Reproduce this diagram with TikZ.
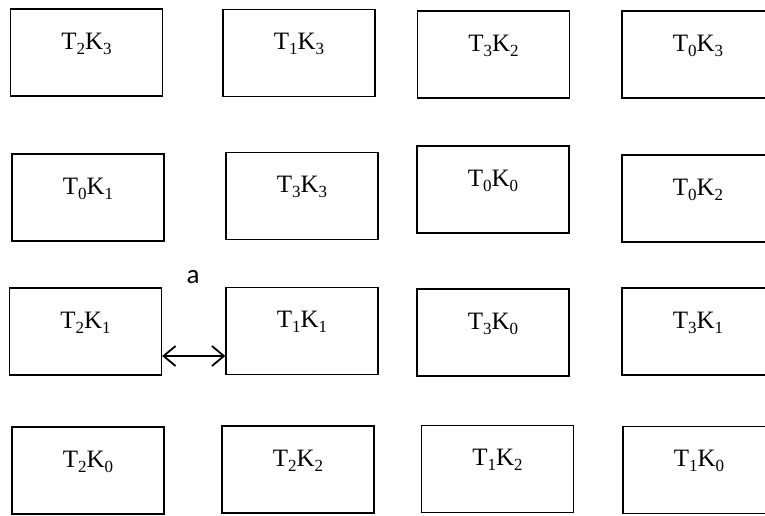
\documentclass[tikz,border=0pt]{standalone}
\usepackage{fontspec}
\setmainfont{Liberation Serif}
\newfontfamily\labelfont{Carlito}
\usetikzlibrary{arrows.meta}
% subscript in the style of a word processor: smaller and lowered
\newcommand\lowsub[1]{\raisebox{-0.2em}{\fontsize{17}{18}\selectfont #1}}
\newcommand\tk[2]{T\lowsub{#1}K\lowsub{#2}}
\tikzset{
  cell/.style={draw=black, line width=1.3pt, rectangle, minimum width=152pt,
    minimum height=87pt, inner sep=0pt},
  celltext/.style={anchor=base, inner sep=0pt, font=\fontsize{25}{28}\selectfont},
  dbl/.style={{Straight Barb[length=12pt,width=20pt]}-{Straight Barb[length=12pt,width=20pt]},
    line width=1.8pt},
}
\begin{document}
\begin{tikzpicture}[x=1pt,y=-1pt]
\clip (0,0) rectangle (765,516);
\fill[white] (0,0) rectangle (765,516);
% row 1
\node[cell] (b11) at (86.5,52.5) {};
\node[cell] (b12) at (299,53) {};
\node[cell] (b13) at (493.5,54.5) {};
\node[cell] (b14) at (698,54.5) {};
% row 2
\node[cell] (b21) at (88,197.5) {};
\node[cell] (b22) at (302,196) {};
\node[cell] (b23) at (493,189.5) {};
\node[cell] (b24) at (698,198.5) {};
% row 3
\node[cell] (b31) at (85.5,331.5) {};
\node[cell] (b32) at (302,331) {};
\node[cell] (b33) at (493,332.5) {};
\node[cell] (b34) at (698,331.5) {};
% row 4
\node[cell] (b41) at (88,470.5) {};
\node[cell] (b42) at (298,469.5) {};
\node[cell] (b43) at (497.5,469) {};
\node[cell] (b44) at (699,470) {};
% labels in the upper part of each box
\node[celltext] (t11) at ([yshift=-41pt]b11.north) {\tk23};
\node[celltext] (t12) at ([yshift=-41pt]b12.north) {\tk13};
\node[celltext] (t13) at ([yshift=-41pt]b13.north) {\tk32};
\node[celltext] (t14) at ([yshift=-41pt]b14.north) {\tk03};
\node[celltext] (t21) at ([yshift=-41pt]b21.north) {\tk01};
\node[celltext] (t22) at ([yshift=-41pt]b22.north) {\tk33};
\node[celltext] (t23) at ([yshift=-41pt]b23.north) {\tk00};
\node[celltext] (t24) at ([yshift=-41pt]b24.north) {\tk02};
\node[celltext] (t31) at ([yshift=-41pt]b31.north) {\tk21};
\node[celltext] (t32) at ([yshift=-41pt]b32.north) {\tk11};
\node[celltext] (t33) at ([yshift=-41pt]b33.north) {\tk30};
\node[celltext] (t34) at ([yshift=-41pt]b34.north) {\tk31};
\node[celltext] (t41) at ([yshift=-41pt]b41.north) {\tk20};
\node[celltext] (t42) at ([yshift=-41pt]b42.north) {\tk22};
\node[celltext] (t43) at ([yshift=-41pt]b43.north) {\tk12};
\node[celltext] (t44) at ([yshift=-41pt]b44.north) {\tk10};
% two-way link between T2K1 and T1K1
\coordinate (aL) at ([yshift=-24.5pt]b31.east);
\coordinate (aR) at (aL -| b32.west);
\draw[dbl] (aL) -- (aR);
\node[font=\labelfont\fontsize{27}{28}\selectfont, inner sep=0pt] (la) at (193,277) {a};
\end{tikzpicture}
\end{document}
